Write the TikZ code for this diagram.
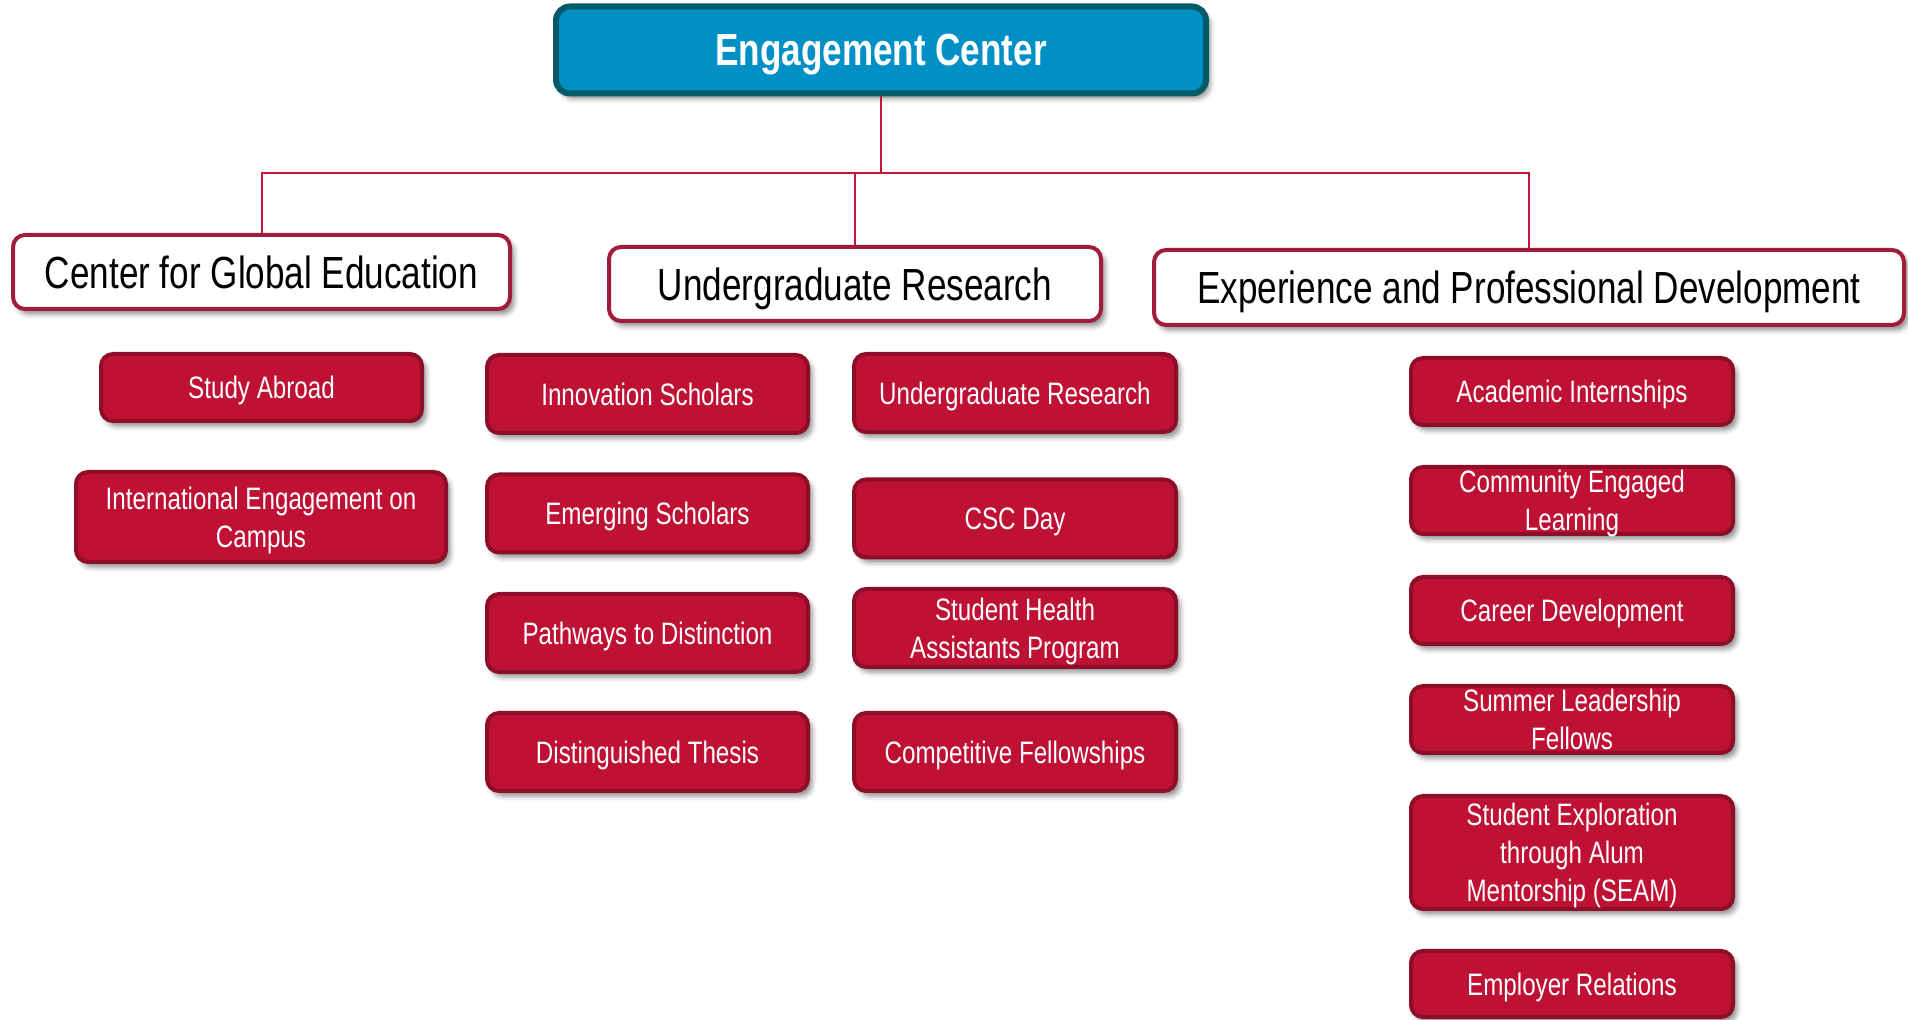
\documentclass[tikz,border=0pt]{standalone}
\usepackage{fontspec}
\setmainfont{Liberation Sans}[FakeStretch=0.78]
\usetikzlibrary{shadows.blur}

\definecolor{capred}{HTML}{BE1134}
\definecolor{capdark}{HTML}{8E0D27}
\definecolor{hdrline}{HTML}{A01C3A}
\definecolor{topblue}{HTML}{0090C6}
\definecolor{topdark}{HTML}{005A68}
\definecolor{linkred}{HTML}{C4143C}

\tikzset{
  boxshadow/.style={blur shadow={shadow xshift=2pt, shadow yshift=-2.5pt,
      shadow blur radius=2.5pt, shadow opacity=45}},
  px size/.style 2 args={minimum width=#1*0.5pt, minimum height=#2*0.5pt},
  topbox/.style={draw=topdark, line width=3pt, fill=topblue, rounded corners=7pt,
      text=white, text depth=0pt, font=\fontsize{22.5}{27}\selectfont\bfseries, boxshadow},
  headbox/.style={draw=hdrline, line width=2pt, fill=white, rounded corners=6pt,
      text depth=0pt, font=\fontsize{22.5}{27}\selectfont, boxshadow},
  itembox/.style={draw=capdark, line width=2pt, fill=capred, rounded corners=6pt,
      text=white, align=center, inner sep=0pt, text depth=0pt,
      font=\fontsize{15.5}{19}\selectfont, boxshadow},
  link/.style={linkred, line width=1pt}
}

\begin{document}
\begin{tikzpicture}[x=0.5pt, y=-0.5pt]
\useasboundingbox (0,0) rectangle (1908,1020);

% Top box
\node[topbox, px size={650}{87}] (ec) at (881,50) {Engagement Center};

% Department headers
\node[headbox, px size={497}{74}] (cge) at (261.5,272) {Center for Global Education};
\node[headbox, px size={492}{74}] (ugr) at (855,284) {Undergraduate Research};
\node[headbox, px size={750}{75}] (epd) at (1529,287.5) {Experience and Professional Development};

% Bus lines
\coordinate (bus) at (0,173);
\draw[link] (ec.south) -- (ec.south |- bus);
\draw[link] (cge.north) -- (cge.north |- bus) -- (epd.north |- bus) -- (epd.north);
\draw[link] (ugr.north |- bus) -- (ugr.north);

% Global education programs
\node[itembox, px size={321}{67}] (abroad) at (261.5,387.5) {Study Abroad};
\node[itembox, px size={370}{90}] (intl) at (261,517) {International Engagement on\\Campus};

% Research programs, first column
\node[itembox, px size={321}{78}] (innov) at (647.5,394) {Innovation Scholars};
\node[itembox, px size={321}{78}] (emerg) at (647.5,513.5) {Emerging Scholars};
\node[itembox, px size={321}{78}] (paths) at (647.5,633) {Pathways to Distinction};
\node[itembox, px size={321}{78}] (thesis) at (647.5,752) {Distinguished Thesis};

% Research programs, second column
\node[itembox, px size={322}{78}] (ures) at (1015,393) {Undergraduate Research};
\node[itembox, px size={322}{78}] (csc) at (1015,518.5) {CSC Day};
\node[itembox, px size={322}{78}] (health) at (1015,628) {Student Health\\Assistants Program};
\node[itembox, px size={322}{78}] (fellow) at (1015,752) {Competitive Fellowships};

% Professional development programs
\node[itembox, px size={322}{67}] (intern) at (1572,391.5) {Academic Internships};
\node[itembox, px size={322}{67}] (commun) at (1572,500.5) {Community Engaged\\Learning};
\node[itembox, px size={322}{67}] (career) at (1572,610.5) {Career Development};
\node[itembox, px size={322}{67}] (summer) at (1572,719.5) {Summer Leadership\\Fellows};
\node[itembox, px size={322}{113}] (seam) at (1572,852.5) {Student Exploration\\through Alum\\Mentorship (SEAM)};
\node[itembox, px size={322}{66}] (employ) at (1572,984) {Employer Relations};

\end{tikzpicture}
\end{document}
